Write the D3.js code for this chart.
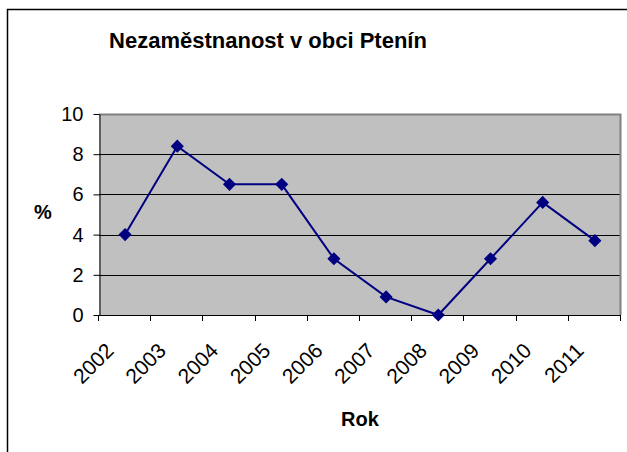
<!DOCTYPE html>
<html>
<head>
<meta charset="utf-8">
<script src="https://cdn.jsdelivr.net/npm/d3@7"></script>
<style>
  body { margin: 0; background: #fff; }
  svg text { font-family: "Liberation Sans", Arial, sans-serif; fill: #000; }
</style>
</head>
<body>
<div id="chart"></div>
<script>
var years = ['2002', '2003', '2004', '2005', '2006', '2007', '2008', '2009', '2010', '2011'];
var values = [4.0, 8.4, 6.5, 6.5, 2.8, 0.9, 0.0, 2.8, 5.6, 3.7];
var yTicks = [0, 2, 4, 6, 8, 10];

var width = 627, height = 452;
var plot = { left: 99, right: 621, top: 114, bottom: 315 };

var svg = d3.select('#chart').append('svg')
  .attr('width', width)
  .attr('height', height);

// outer chart frame (runs off the right and bottom of the picture)
svg.append('rect')
  .attr('x', 7.5).attr('y', 9.5)
  .attr('width', 700).attr('height', 500)
  .attr('fill', '#fff')
  .attr('stroke', '#000')
  .attr('stroke-width', 1.5);

var x = d3.scaleBand()
  .domain(years)
  .range([plot.left, plot.right]);

var y = d3.scaleLinear()
  .domain([0, 10])
  .range([plot.bottom, plot.top]);

// plot area
svg.append('rect')
  .attr('x', plot.left).attr('y', plot.top)
  .attr('width', plot.right - plot.left)
  .attr('height', plot.bottom - plot.top)
  .attr('fill', '#c0c0c0');

// gridlines
svg.append('g')
  .selectAll('line')
  .data(yTicks.slice(1, -1))
  .enter().append('line')
  .attr('x1', plot.left).attr('x2', plot.right)
  .attr('y1', function (d) { return Math.round(y(d)) + 0.5; })
  .attr('y2', function (d) { return Math.round(y(d)) + 0.5; })
  .attr('stroke', '#000')
  .attr('stroke-width', 1);

// gray border top + right
svg.append('path')
  .attr('d', 'M' + plot.left + ',' + (plot.top + 0.5) + 'H' + (plot.right - 0.5) + 'V' + plot.bottom)
  .attr('fill', 'none')
  .attr('stroke', '#808080')
  .attr('stroke-width', 2);

// y axis
var yAxis = svg.append('g')
  .attr('transform', 'translate(' + (plot.left + 0.5) + ',0)')
  .call(d3.axisLeft(y).tickValues(yTicks).tickSize(6).tickSizeOuter(0).tickPadding(10));
yAxis.selectAll('text').style('font-size', '20px');
yAxis.selectAll('line, path').attr('stroke', '#000');

// x axis: line + ticks between categories
var xAxis = svg.append('g');
xAxis.append('line')
  .attr('x1', plot.left).attr('x2', plot.right)
  .attr('y1', plot.bottom + 0.5).attr('y2', plot.bottom + 0.5)
  .attr('stroke', '#000');
var bounds = years.map(function (d) { return x(d); }).concat([plot.right]);
xAxis.selectAll('.tick')
  .data(bounds)
  .enter().append('line')
  .attr('class', 'tick')
  .attr('x1', function (d) { return Math.round(d) - 0.5; })
  .attr('x2', function (d) { return Math.round(d) - 0.5; })
  .attr('y1', plot.bottom).attr('y2', plot.bottom + 6)
  .attr('stroke', '#000');
xAxis.selectAll('.lab')
  .data(years)
  .enter().append('text')
  .attr('class', 'lab')
  .attr('text-anchor', 'end')
  .style('font-size', '21px')
  .attr('transform', function (d) {
    return 'translate(' + (x(d) + x.bandwidth() / 2 - 10) + ',' + (plot.bottom + 37) + ') rotate(-45)';
  })
  .text(function (d) { return d; });

// line + markers
var line = d3.line()
  .x(function (d, i) { return x(years[i]) + x.bandwidth() / 2; })
  .y(function (d) { return y(d); });

svg.append('path')
  .datum(values)
  .attr('d', line)
  .attr('fill', 'none')
  .attr('stroke', '#000080')
  .attr('stroke-width', 2);

var diamond = d3.symbol().type(d3.symbolDiamond2).size(110);
svg.append('g')
  .selectAll('path')
  .data(values)
  .enter().append('path')
  .attr('d', diamond)
  .attr('transform', function (d, i) {
    return 'translate(' + (x(years[i]) + x.bandwidth() / 2) + ',' + y(d) + ')';
  })
  .attr('fill', '#000080');

// titles
svg.append('text')
  .attr('x', 268).attr('y', 48)
  .attr('text-anchor', 'middle')
  .style('font-size', '22px')
  .style('font-weight', 'bold')
  .text('Nezaměstnanost v obci Ptenín');

svg.append('text')
  .attr('x', (plot.left + plot.right) / 2).attr('y', 426)
  .attr('text-anchor', 'middle')
  .style('font-size', '20px')
  .style('font-weight', 'bold')
  .text('Rok');

svg.append('text')
  .attr('x', 43).attr('y', 219)
  .attr('text-anchor', 'middle')
  .style('font-size', '20px')
  .style('font-weight', 'bold')
  .text('%');
</script>
</body>
</html>
